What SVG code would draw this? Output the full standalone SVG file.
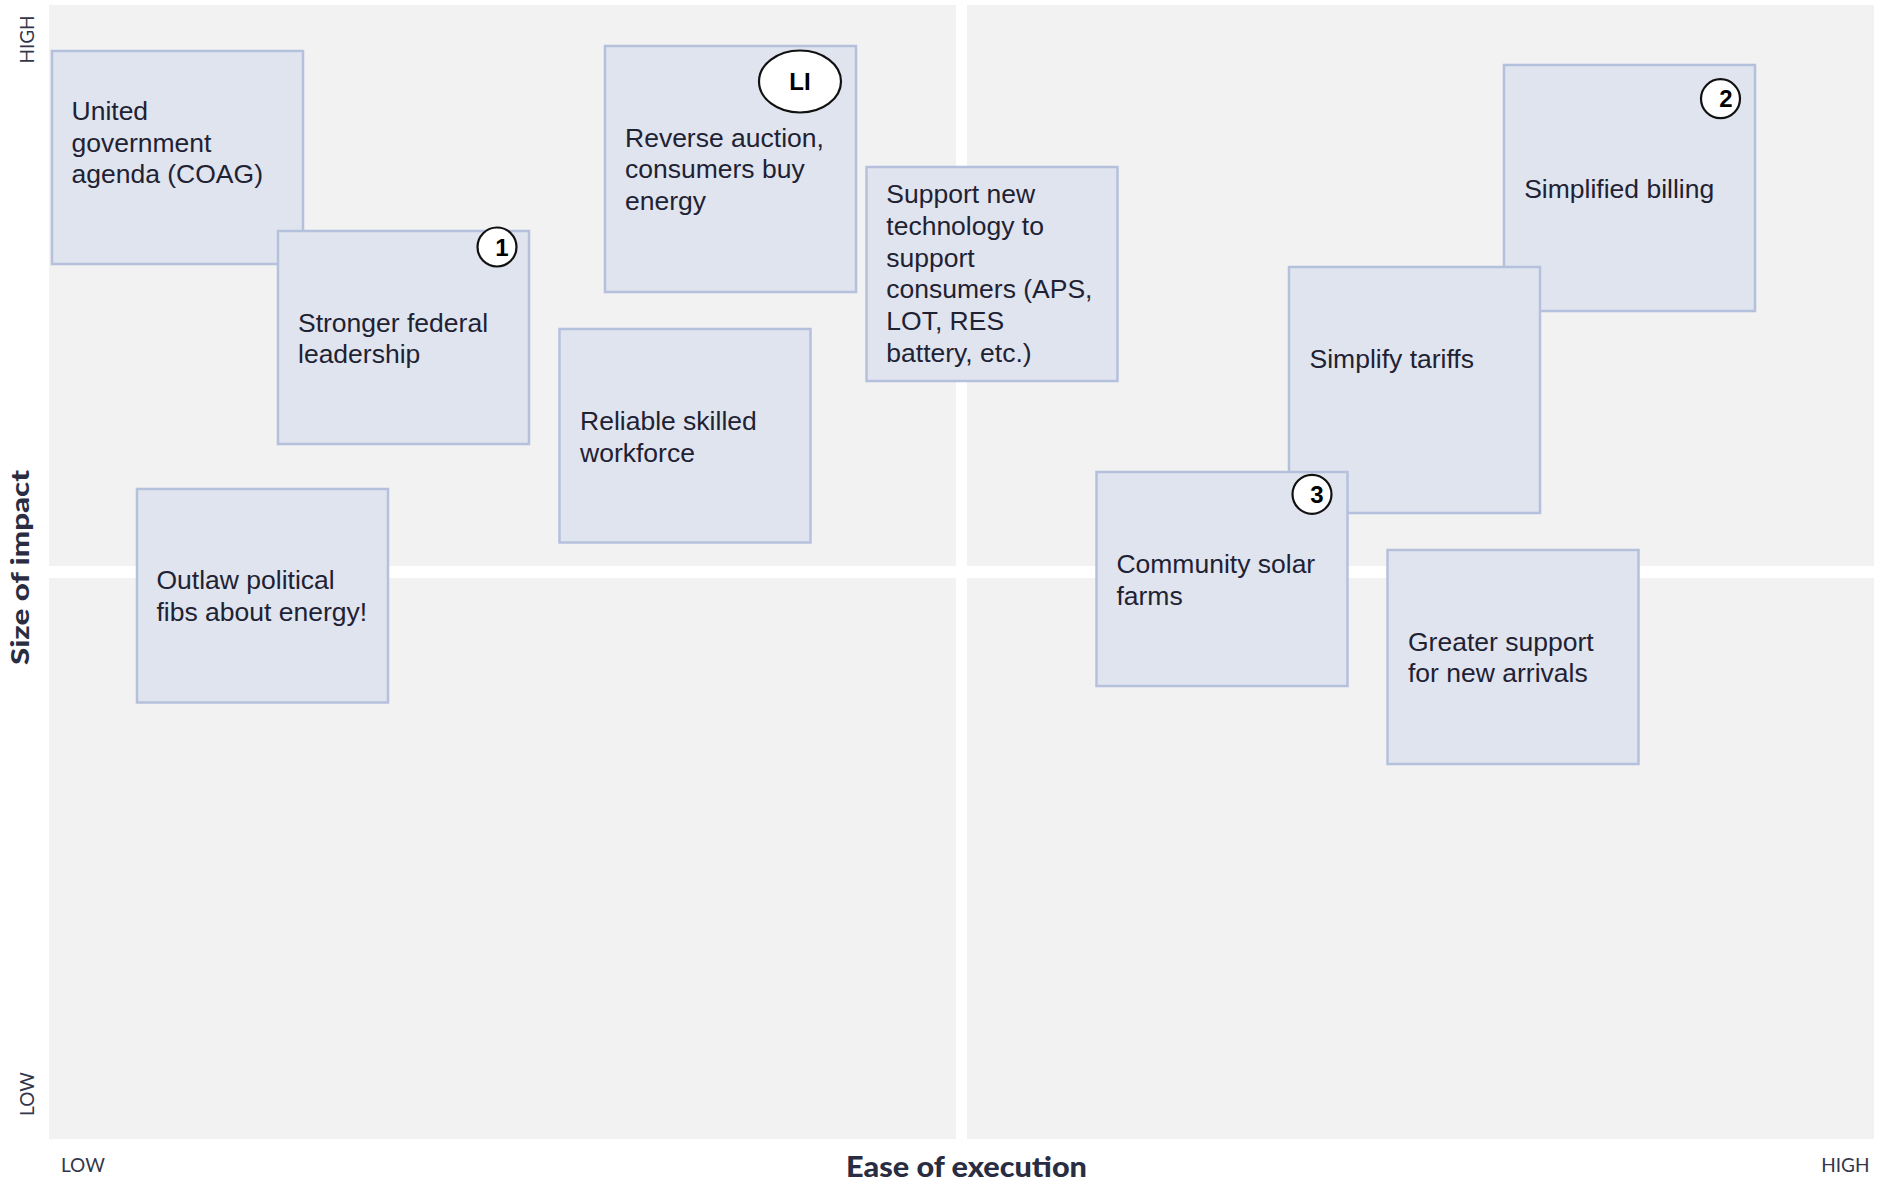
<svg xmlns="http://www.w3.org/2000/svg" width="1883" height="1179" viewBox="0 0 1883 1179">
<style>
.panel{fill:#f2f2f2}
.box{fill:#e0e4ef;stroke:#b5c1dc;stroke-width:2.5}
.t{font-family:"Liberation Sans",Arial,sans-serif;font-size:26.5px;fill:#1e2233}
.badge{fill:#ffffff;stroke:#111111;stroke-width:2.2}
.bn{font-family:"Liberation Sans",Arial,sans-serif;font-size:24px;font-weight:bold;fill:#000;text-anchor:middle}
.ax{font-family:Lato,"Open Sans",sans-serif;font-size:19px;fill:#33364a}
.axt{font-family:Lato,"Open Sans",sans-serif;font-weight:900;fill:#2a2d42;text-anchor:middle}
</style>
<rect width="1883" height="1179" fill="#ffffff"/>
<g id="quadrants">
<rect class="panel" x="49" y="5" width="907" height="561"/>
<rect class="panel" x="967" y="5" width="907" height="561"/>
<rect class="panel" x="49" y="578" width="907" height="561"/>
<rect class="panel" x="967" y="578" width="907" height="561"/>
</g>
<g id="axes">
<text class="ax" x="34" y="39.5" text-anchor="middle" transform="rotate(-90 34 39.5)">HIGH</text>
<text class="ax" x="34" y="1094" text-anchor="middle" transform="rotate(-90 34 1094)">LOW</text>
<text class="axt" x="28.5" y="567.5" font-size="24" textLength="195" lengthAdjust="spacingAndGlyphs" transform="rotate(-90 28.5 567.5)">Size of impact</text>
<text class="axt" x="966.5" y="1176.5" font-size="28" textLength="241" lengthAdjust="spacingAndGlyphs">Ease of execution</text>
<text class="ax" x="61" y="1172">LOW</text>
<text class="ax" x="1869.5" y="1172" text-anchor="end">HIGH</text>
</g>
<g id="connectors"></g>
<g id="node-united">
<rect class="box" x="52" y="51" width="251" height="213"/>
<text class="t"><tspan x="71.5" y="120">United</tspan><tspan x="71.5" y="151.7">government</tspan><tspan x="71.5" y="183.4">agenda (COAG)</tspan></text>
</g>
<g id="node-stronger">
<rect class="box" x="278" y="231" width="251" height="213"/>
<text class="t"><tspan x="298" y="331.7">Stronger federal</tspan><tspan x="298" y="363.3">leadership</tspan></text>
<circle class="badge" cx="497" cy="247" r="19.5"/>
<text class="bn" x="502" y="255.5">1</text>
</g>
<g id="node-reverse">
<rect class="box" x="605" y="46" width="251" height="246"/>
<text class="t"><tspan x="625" y="146.7">Reverse auction,</tspan><tspan x="625" y="178.3">consumers buy</tspan><tspan x="625" y="210">energy</tspan></text>
<ellipse class="badge" cx="800" cy="81.5" rx="41" ry="31"/>
<text class="bn" x="800" y="90" font-size="20">LI</text>
</g>
<g id="node-support">
<rect class="box" x="866.5" y="167" width="251" height="214"/>
<text class="t"><tspan x="886.3" y="203.3">Support new</tspan><tspan x="886.3" y="235">technology to</tspan><tspan x="886.3" y="266.7">support</tspan><tspan x="886.3" y="298.3">consumers (APS,</tspan><tspan x="886.3" y="330">LOT, RES</tspan><tspan x="886.3" y="361.7">battery, etc.)</tspan></text>
</g>
<g id="node-reliable">
<rect class="box" x="559.5" y="329" width="251" height="213.5"/>
<text class="t"><tspan x="580" y="430">Reliable skilled</tspan><tspan x="580" y="461.7">workforce</tspan></text>
</g>
<g id="node-outlaw">
<rect class="box" x="137" y="489" width="251" height="213.5"/>
<text class="t"><tspan x="156.5" y="589.3">Outlaw political</tspan><tspan x="156.5" y="621">fibs about energy!</tspan></text>
</g>
<g id="node-billing">
<rect class="box" x="1504" y="65" width="251" height="246"/>
<text class="t" x="1524.2" y="198.3">Simplified billing</text>
<circle class="badge" cx="1720.5" cy="98.7" r="19.5"/>
<text class="bn" x="1726" y="107.2">2</text>
</g>
<g id="node-tariffs">
<rect class="box" x="1289" y="267" width="251" height="246"/>
<text class="t" x="1309.5" y="368.3">Simplify tariffs</text>
</g>
<g id="node-community">
<rect class="box" x="1096.5" y="472" width="251" height="214"/>
<text class="t"><tspan x="1116.4" y="573.3">Community solar</tspan><tspan x="1116.4" y="605">farms</tspan></text>
<circle class="badge" cx="1312" cy="494.3" r="19.5"/>
<text class="bn" x="1317" y="502.8">3</text>
</g>
<g id="node-greater">
<rect class="box" x="1387.5" y="550" width="251" height="214"/>
<text class="t"><tspan x="1408" y="650.7">Greater support</tspan><tspan x="1408" y="682.3">for new arrivals</tspan></text>
</g>
</svg>
